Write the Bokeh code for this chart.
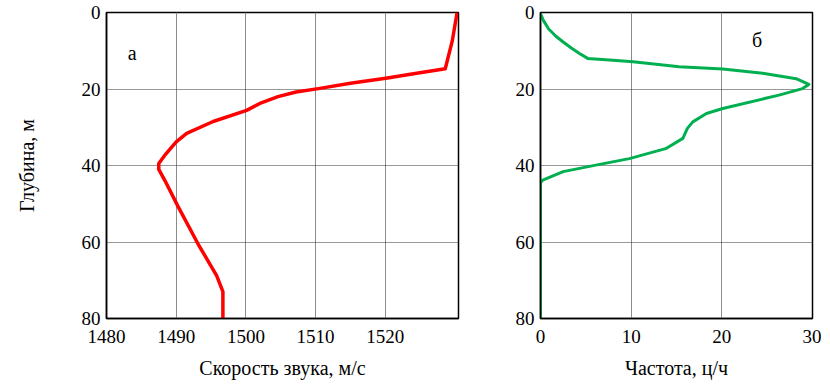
from bokeh.plotting import figure
from bokeh.layouts import row
from bokeh.models import Range1d, FixedTicker, Label
from bokeh.embed import file_html
from bokeh.resources import INLINE

# Panel a: sound speed profile
speed = [1530.3, 1529.6, 1528.6, 1524.5, 1520.3, 1515.0, 1510.4, 1507.2, 1504.6, 1502.2, 1500.1,
         1495.3, 1491.5, 1490.0, 1488.5, 1487.5, 1487.5, 1488.4, 1490.2, 1493.1,
         1495.8, 1496.7, 1496.7]
depth_a = [0, 7.5, 14.7, 15.9, 17.1, 18.5, 19.9, 20.8, 22.0, 23.6, 25.6,
           28.5, 31.6, 33.8, 37.0, 39.5, 41.0, 44.0, 50.5, 60.4,
           68.8, 73.0, 80]

# Panel b: frequency profile
freq = [0, 0.3, 0.9, 1.7, 2.5, 3.4, 4.3, 5.2, 8.0, 10.2, 15.3, 20.1, 24.5, 28.2, 29.6, 28.9, 26.3,
        20.1, 18.3, 16.8, 16.2, 15.7, 13.8, 9.8, 6.1, 2.5, 0.25, 0, 0]
depth_b = [0.3, 2.0, 4.3, 6.2, 7.7, 9.3, 10.7, 12.0, 12.5, 12.9, 14.2, 14.8, 15.9, 17.3, 18.8, 19.9, 21.6,
           25.1, 26.4, 28.6, 30.3, 32.9, 35.6, 38.2, 39.9, 41.6, 43.8, 44.5, 80]

x_ticks_a = [1480, 1490, 1500, 1510, 1520]
x_ticks_b = [0, 10, 20, 30]
y_ticks = [0, 20, 40, 60, 80]

FONT = "Liberation Serif"
TICK_SIZE = "19px"
LABEL_SIZE = "20px"


def style(p, xticks):
    p.xaxis.ticker = FixedTicker(ticks=xticks)
    p.yaxis.ticker = FixedTicker(ticks=y_ticks)
    for ax in (p.xaxis[0], p.yaxis[0]):
        ax.major_tick_in = 0
        ax.major_tick_out = 0
        ax.minor_tick_in = 0
        ax.minor_tick_out = 0
        ax.axis_line_color = "black"
        ax.axis_line_width = 1.5
        ax.major_label_text_font = FONT
        ax.major_label_text_font_size = TICK_SIZE
        ax.major_label_text_color = "black"
        ax.axis_label_text_font = FONT
        ax.axis_label_text_font_size = LABEL_SIZE
        ax.axis_label_text_font_style = "normal"
        ax.axis_label_text_color = "black"
    p.xaxis.major_label_standoff = 11
    p.yaxis.major_label_standoff = 6
    p.xaxis.axis_label_standoff = 11
    p.yaxis.axis_label_standoff = 41
    p.xgrid.grid_line_color = "#8c8c8c"
    p.xgrid.grid_line_width = 1
    p.ygrid.grid_line_color = "#303030"
    p.ygrid.grid_line_dash = "1 1"
    p.ygrid.grid_line_width = 1
    p.outline_line_color = "black"
    p.outline_line_width = 1.5
    p.outline_line_alpha = 1
    p.background_fill_color = "white"
    p.border_fill_color = "white"


pa = figure(frame_width=352, frame_height=306, output_backend="svg", toolbar_location=None,
            x_range=Range1d(1480, 1530.5), y_range=Range1d(80, 0),
            min_border_left=106, min_border_right=25, min_border_top=12, min_border_bottom=60)
style(pa, x_ticks_a)
pa.xaxis.axis_label = "Скорость звука, м/с"
pa.yaxis.axis_label = "Глубина, м"
pa.line(speed, depth_a, line_color="#ff0000", line_width=3.5, line_join="round")
pa.add_layout(Label(x=1483.7, y=10.7, text="а", text_font=FONT, text_font_size="20px",
                    text_align="center", text_baseline="middle", text_color="black"))

pb = figure(frame_width=272, frame_height=306, output_backend="svg", toolbar_location=None,
            x_range=Range1d(0, 30), y_range=Range1d(80, 0),
            min_border_left=57, min_border_right=9, min_border_top=12, min_border_bottom=60)
style(pb, x_ticks_b)
pb.xaxis.axis_label = "Частота, ц/ч"
pb.line(freq, depth_b, line_color="#00b050", line_width=3, line_join="round")
pb.add_layout(Label(x=23.9, y=7.3, text="б", text_font=FONT, text_font_size="20px",
                    text_align="center", text_baseline="middle", text_color="black"))

layout = row(pa, pb)
open("out.html", "w").write(file_html(layout, INLINE))
